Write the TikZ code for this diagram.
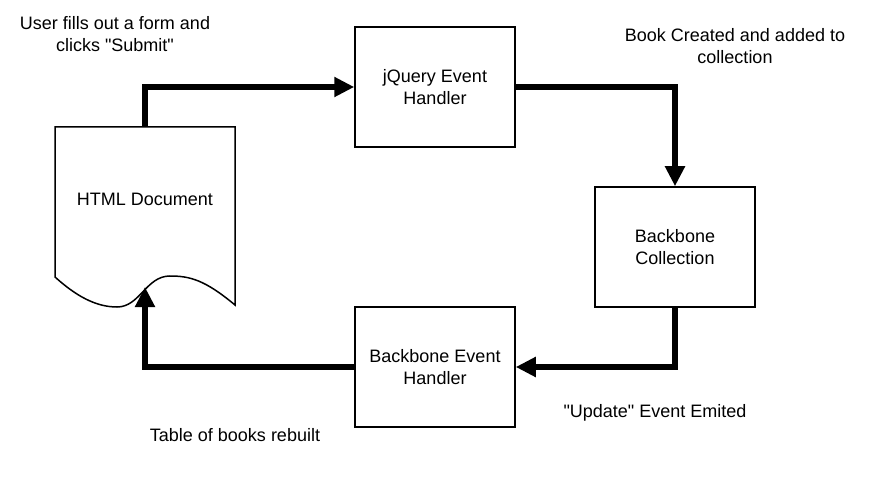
\documentclass[tikz,border=0pt]{standalone}
\usepackage{fontspec}
\setmainfont{Liberation Sans}
\usetikzlibrary{arrows.meta}

\begin{document}
\begin{tikzpicture}[x=1pt, y=-1pt,
    box/.style={draw, line width=1.5pt, minimum width=160pt, minimum height=120pt,
      align=center, inner sep=0pt, font=\fontsize{18}{22}\selectfont},
    flow/.style={line width=6pt, -{Triangle[length=20pt,width=19pt]}},
    note/.style={align=center, font=\fontsize{18}{22}\selectfont}]
    \useasboundingbox (0,0) rectangle (872,486);
    % document shape
    \draw[line width=1.5pt, fill=white] (55,127) -- (235,127) -- (235,305)
      .. controls (205,280) and (190,276) .. (170,276)
      .. controls (146,276) and (140,307) .. (117,307)
      .. controls (95,307) and (75,295) .. (55,277) -- cycle;
    \node[note] (doc) at (145,199) {HTML Document};
    \coordinate (doctop) at (145,127);
    \coordinate (docbot) at (145,287);
    \node[box] (jq) at (435,87) {jQuery Event\\Handler};
    \node[box] (coll) at (675,247) {Backbone\\Collection};
    \node[box] (beh) at (435,367) {Backbone Event\\Handler};
    \draw[flow] (doctop) |- (jq.west);
    \draw[flow] (jq.east) -| (coll.north);
    \draw[flow] (coll.south) |- (beh.east);
    \draw[flow] (beh.west) -| (docbot);
    \node[note] (submit) at (115,34) {User fills out a form and\\clicks \textquotedbl Submit\textquotedbl};
    \node[note] (created) at (735,46) {Book Created and added to\\collection};
    \node[note] (update) at (655,413) {\textquotedbl Update\textquotedbl{} Event Emited};
    \node[note] (rebuilt) at (235,435) {Table of books rebuilt};
\end{tikzpicture}
\end{document}
